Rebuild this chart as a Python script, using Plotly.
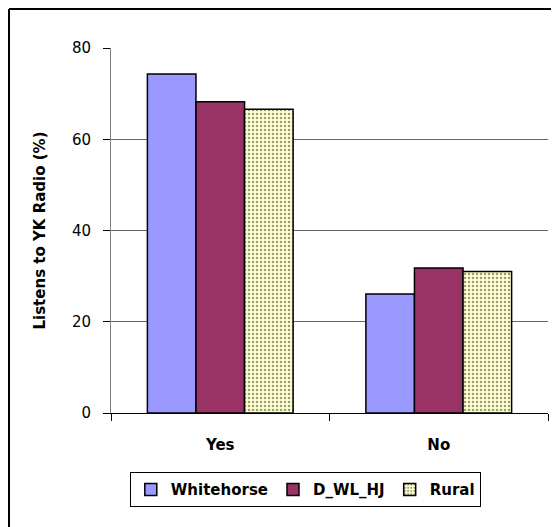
import plotly.graph_objects as go

categories = ["Yes", "No"]
whitehorse = [74.3, 26.1]
d_wl_hj = [68.2, 31.8]
rural = [66.6, 31.0]

FONT = "DejaVu Sans"

fig = go.Figure()
fig.add_trace(go.Bar(x=categories, y=whitehorse, name="Whitehorse",
                     marker=dict(color="#9999FF", line=dict(color="black", width=1.5))))
fig.add_trace(go.Bar(x=categories, y=d_wl_hj, name="D_WL_HJ",
                     marker=dict(color="#993366", line=dict(color="black", width=1.5))))
fig.add_trace(go.Bar(x=categories, y=rural, name="Rural",
                     marker=dict(color="#FFFFCC", line=dict(color="black", width=1.5),
                                 pattern=dict(shape=".", bgcolor="#FFFFCC", fgcolor="#333333",
                                              size=4, solidity=0.3))))

# outer chart border: only the left and top edges are inside the picture
fig.add_shape(type="line", xref="paper", yref="paper",
              x0=-0.2334, x1=-0.2334, y0=-0.6, y1=1.1068,
              line=dict(color="black", width=2), layer="below")
fig.add_shape(type="line", xref="paper", yref="paper",
              x0=-0.2334, x1=1.3, y0=1.1068, y1=1.1068,
              line=dict(color="black", width=2), layer="below")

# page body has an 8px margin, so the figure is shifted back by that much
fig.update_layout(
    width=551, height=519,
    margin=dict(l=103, r=11, t=40, b=114),
    paper_bgcolor="white", plot_bgcolor="white",
    barmode="group", bargap=0.333, bargroupgap=0,
    font=dict(family=FONT, size=15, color="black"),
    showlegend=True,
    legend=dict(orientation="h", x=0.043, xanchor="left", y=-0.162, yanchor="top",
                bordercolor="black", borderwidth=1,
                font=dict(family=FONT, size=15, weight="bold"),
                itemwidth=30, tracegroupgap=0),
    xaxis=dict(type="category", showline=True, linecolor="black", linewidth=1,
               ticks="outside", tickson="boundaries", ticklen=7, tickcolor="black",
               tickfont=dict(family=FONT, size=15, weight="bold"), ticklabelstandoff=18,
               showgrid=False, automargin=False),
    yaxis=dict(range=[0, 80], dtick=20, showline=True, linecolor="#808080", linewidth=1,
               ticks="outside", ticklen=7, tickcolor="black", ticklabelstandoff=9,
               showgrid=True, gridcolor="#666666", gridwidth=1, zeroline=False,
               tickfont=dict(family=FONT, size=15), automargin=False,
               title=dict(text="Listens to YK Radio (%)",
                          font=dict(family=FONT, size=15, weight="bold"),
                          standoff=22)),
)

fig.write_html("out.html")
